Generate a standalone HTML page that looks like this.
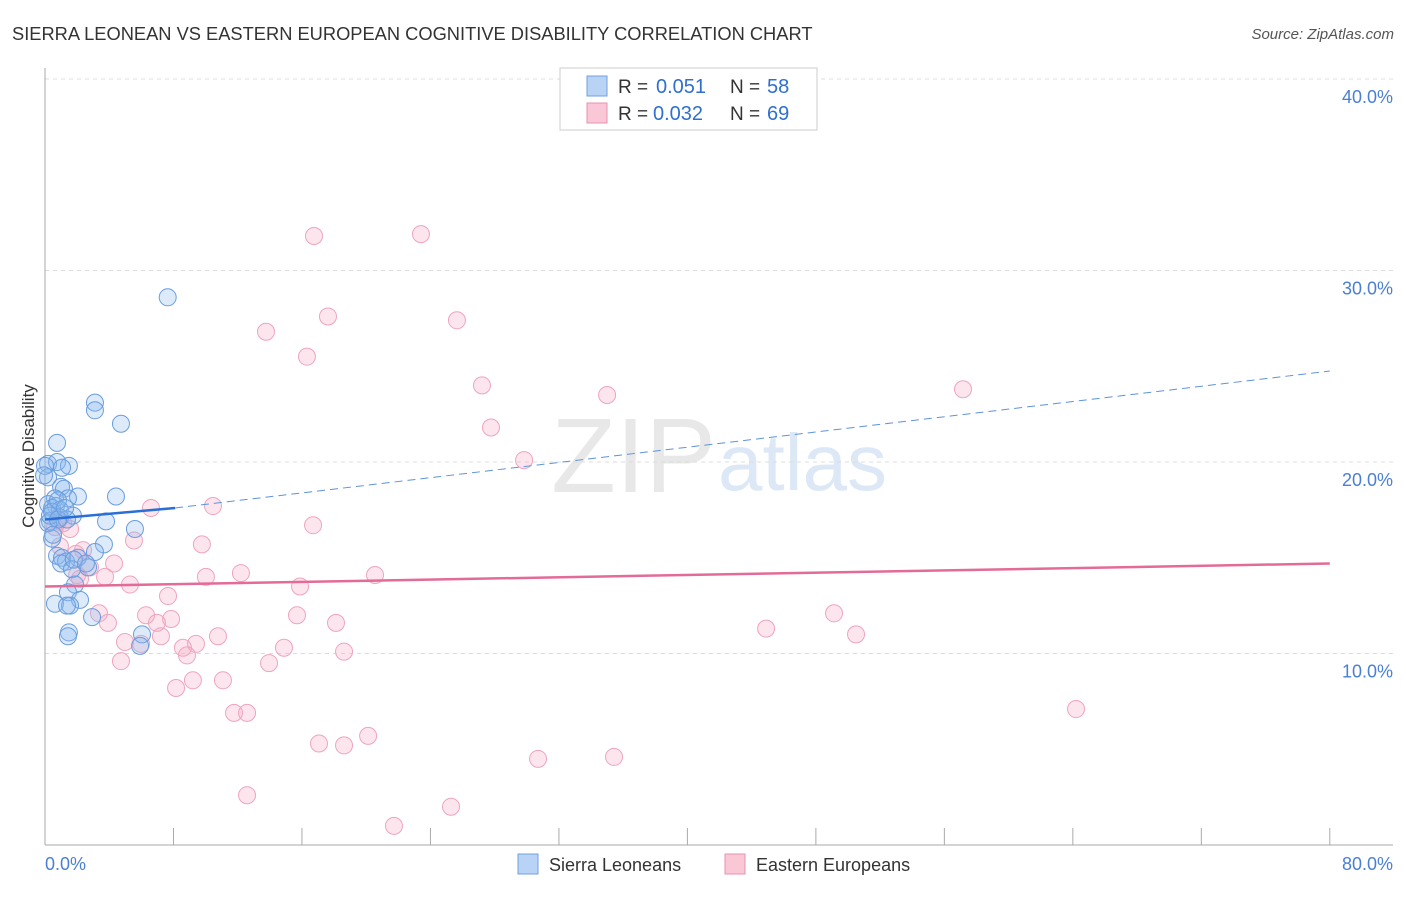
<!DOCTYPE html>
<html><head><meta charset="utf-8"><style>
body{margin:0;background:#fff;font-family:"Liberation Sans",sans-serif}
svg text{font-family:"Liberation Sans",sans-serif}
</style></head><body>
<svg width="1406" height="892" xmlns="http://www.w3.org/2000/svg" id="svg">
<text x="12" y="40" font-size="18.3" fill="#333">SIERRA LEONEAN VS EASTERN EUROPEAN COGNITIVE DISABILITY CORRELATION CHART</text>
<text x="1394" y="39" font-size="15" fill="#555" text-anchor="end" font-style="italic">Source: ZipAtlas.com</text>
<text x="716" y="492" font-size="106" fill="#e8e8e8" text-anchor="end" font-family="Liberation Serif">ZIP</text>
<text x="718" y="490" font-size="80" fill="#dce8f6">atlas</text>
<g id="grid"></g><g id="axes"></g><g id="pts"></g><g id="lines"></g>
<text transform="translate(34,456) rotate(-90)" font-size="17" fill="#333" text-anchor="middle">Cognitive Disability</text>
<text x="45" y="870" font-size="18" fill="#4a7fd4">0.0%</text>
<text x="1393" y="870" font-size="18" fill="#4a7fd4" text-anchor="end">80.0%</text>
<g>
<rect x="560" y="68" width="257" height="62" fill="#fff" stroke="#ccc"/>
<rect x="587" y="76" width="20" height="20" fill="#b8d3f5" stroke="#6fa0e0"/>
<rect x="587" y="103" width="20" height="20" fill="#f9c7d6" stroke="#e890ae"/>
<text x="618" y="93" font-size="19" fill="#333">R =</text>
<text x="656" y="93" font-size="20" fill="#2f6fd0">0.051</text>
<text x="730" y="93" font-size="19" fill="#333">N =</text>
<text x="767" y="93" font-size="20" fill="#2f6fd0">58</text>
<text x="618" y="120" font-size="19" fill="#333">R =</text>
<text x="653" y="120" font-size="20" fill="#2f6fd0">0.032</text>
<text x="730" y="120" font-size="19" fill="#333">N =</text>
<text x="767" y="120" font-size="20" fill="#2f6fd0">69</text>
</g>
<g>
<rect x="518" y="854" width="20" height="20" fill="#b8d3f5" stroke="#6fa0e0"/>
<text x="549" y="871" font-size="18" fill="#333">Sierra Leoneans</text>
<rect x="725" y="854" width="20" height="20" fill="#f9c7d6" stroke="#e890ae"/>
<text x="756" y="871" font-size="18" fill="#333">Eastern Europeans</text>
</g>
</svg>
<script>
const yTicks=[10,20,30,40];
const yTickLabels=["10.0%","20.0%","30.0%","40.0%"];
const xTicks=[0,8,16,24,32,40,48,56,64,72,80];
const blueX=[7.64,3.11,3.11,4.73,0.75,0.19,0.75,1.49,1.06,0.19,1.00,1.18,4.42,2.05,0.62,1.43,0.19,0.68,0.44,0.93,1.74,0.93,1.37,3.80,0.31,5.60,0.44,3.67,3.11,0.75,1.06,2.05,1.31,1.00,2.68,1.68,1.87,1.43,2.18,0.62,1.56,1.37,2.93,6.04,1.49,1.43,5.92,0.19,0.31,0.44,0.81,0.00,-0.06,0.81,1.25,1.80,2.55,0.50];
const blueY=[28.6,23.1,22.7,22.0,21.0,19.9,20.0,19.8,19.7,19.2,18.7,18.6,18.2,18.2,18.1,18.1,17.8,17.7,17.6,17.5,17.2,17.1,17.0,16.9,16.9,16.5,16.0,15.7,15.3,15.1,15.0,15.0,14.8,14.7,14.5,14.4,13.6,13.2,12.8,12.6,12.5,12.5,11.9,11.0,11.1,10.9,10.4,16.8,17.2,17.4,17.0,19.8,19.3,18.0,17.6,14.9,14.7,16.2];
const pinkX=[16.75,23.41,13.76,17.62,25.65,16.31,27.21,35.0,57.16,27.77,29.83,10.46,6.60,16.69,0.81,1.56,5.54,9.77,0.93,2.37,1.93,4.30,2.80,2.00,3.74,10.02,12.20,20.55,15.88,5.29,7.66,6.29,7.85,6.97,3.36,3.92,15.69,18.12,49.13,44.90,50.50,7.22,4.98,5.98,9.40,10.77,8.59,8.84,14.88,18.62,4.73,13.95,9.21,11.08,8.16,11.77,12.58,17.06,18.62,20.12,30.70,35.43,64.20,12.58,25.28,21.73,1.12,0.62,2.18];
const pinkY=[31.8,31.9,26.8,27.6,27.4,25.5,24.0,23.5,23.8,21.8,20.1,17.7,17.6,16.7,16.9,16.5,15.9,15.7,15.6,15.4,15.2,14.7,14.5,14.1,14.0,14.0,14.2,14.1,13.5,13.6,13.0,12.0,11.8,11.6,12.1,11.6,12.0,11.6,12.1,11.3,11.0,10.9,10.6,10.5,10.5,10.9,10.3,9.9,10.3,10.1,9.6,9.5,8.6,8.6,8.2,6.9,6.9,5.3,5.2,5.7,4.5,4.6,7.1,2.6,2.0,1.0,16.8,16.6,13.9];
const X0=45,XS=16.06,Y0=845,YS=19.15;
const xs=v=>X0+v*XS, ys=v=>Y0-v*YS;
const NS="http://www.w3.org/2000/svg";
function mk(p,t,a){const e=document.createElementNS(NS,t);for(const k in a)e.setAttribute(k,a[k]);document.getElementById(p).appendChild(e);return e;}
yTicks.forEach((t,i)=>{
 const g=mk('grid','line',{x1:45,x2:1393,y1:ys(t),y2:ys(t),stroke:'#ddd','stroke-dasharray':'4,4'});
 
 
 const tx=mk('grid','text',{x:1393,y:ys(t)+24,'font-size':18,fill:'#4a7fd4','text-anchor':'end'});
 tx.textContent=yTickLabels[i];
 
 
});
const ax=mk('axes','line',{x1:45,x2:45,y1:68,y2:845,stroke:'#aaa'});


const bx=mk('axes','line',{x1:45,x2:1393,y1:845,y2:845,stroke:'#aaa'});


xTicks.forEach(t=>{
 const l=mk('axes','line',{x1:xs(t),x2:xs(t),y1:828,y2:845,stroke:'#aaa'});
 
 
});
pinkX.forEach((v,i)=>{
 const c=mk('pts','circle',{cx:xs(v),cy:ys(pinkY[i]),r:8.5,fill:'rgba(246,170,196,0.3)',stroke:'#eea5bf','stroke-width':1});
 
 
});
blueX.forEach((v,i)=>{
 const c=mk('pts','circle',{cx:xs(v),cy:ys(blueY[i]),r:8.5,fill:'rgba(140,185,240,0.3)',stroke:'#6a9ddf','stroke-width':1});
 
 
});
const bl=mk('lines','line',{x1:xs(0),y1:ys(17.0),x2:xs(8.1),y2:ys(17.6),stroke:'#2a6fd6','stroke-width':2.5});


const bd=mk('lines','line',{x1:xs(8.1),y1:ys(17.6),x2:xs(80),y2:ys(24.75),stroke:'#5d93dc','stroke-width':1,'stroke-dasharray':'8,5'});


const pl=mk('lines','line',{x1:xs(0),y1:ys(13.5),x2:xs(80),y2:ys(14.7),stroke:'#e36b97','stroke-width':2.5});


</script>
</body></html>
